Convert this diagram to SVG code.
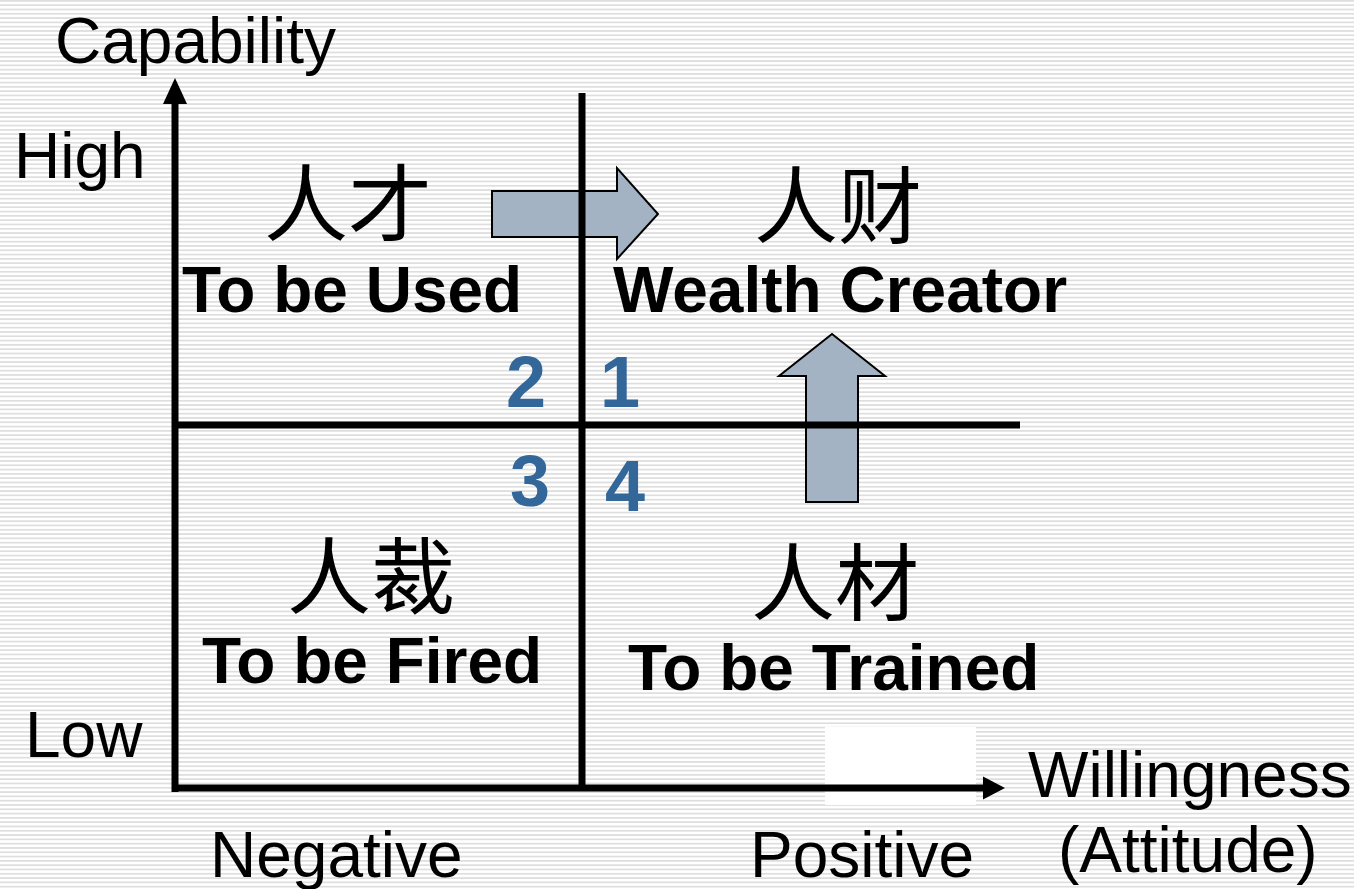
<svg xmlns="http://www.w3.org/2000/svg" width="1354" height="889" viewBox="0 0 1354 889">
<defs>
<pattern id="stripes" width="8" height="4.3" patternUnits="userSpaceOnUse">
<rect x="0" y="0" width="8" height="1.7" fill="#dedede"/>
</pattern>
</defs>
<style>
.lbl{font-family:"Liberation Sans",Arial,sans-serif;font-size:64px;fill:#000}
.bold{font-family:"Liberation Sans",Arial,sans-serif;font-size:64px;font-weight:bold;fill:#000}
.num{font-family:"Liberation Sans",Arial,sans-serif;font-size:72px;font-weight:bold;fill:#336699}
.cjk{font-family:"Noto Sans CJK SC","Noto Sans CJK TC",sans-serif;font-size:84px;fill:#000;text-anchor:middle}
.arrow{fill:#a3b3c3;stroke:#000;stroke-width:2;stroke-linejoin:miter}
.axis{stroke:#000;stroke-width:7;fill:none}
.head{fill:#000}
.grid{stroke:#000;stroke-width:7;fill:none}
</style>
<rect width="1354" height="889" fill="#fff"/>
<rect width="1354" height="889" fill="url(#stripes)"/>
<rect x="825" y="727" width="151" height="78" fill="#fff"/>

<g id="labels">
<text class="lbl" x="55" y="63">Capability</text>
<text class="lbl" x="14" y="178">High</text>
<text class="lbl" x="25" y="757">Low</text>
<text class="lbl" x="210" y="877">Negative</text>
<text class="lbl" x="750" y="877">Positive</text>
<text class="lbl" x="1028" y="797">Willingness</text>
<text class="lbl" x="1058" y="872">(Attitude)</text>
</g>

<g id="arrow-right">
<path class="arrow" d="M492,191 L617,191 L617,168 L658,214 L617,259 L617,237 L492,237 Z"/>
</g>
<g id="arrow-up">
<path class="arrow" d="M806,502 L806,376 L779,376 L832,334 L885,376 L858,376 L858,502 Z"/>
</g>

<g id="connectors">
<line class="axis" x1="175" y1="792" x2="175" y2="100"/>
<polygon class="head" points="175,78 187,104 163,104"/>
<line class="axis" x1="172" y1="788" x2="986" y2="788"/>
<polygon class="head" points="1005,788 983,776.5 983,799.5"/>
<line class="grid" x1="582" y1="93" x2="582" y2="790"/>
<line class="grid" x1="175" y1="425" x2="1020" y2="425"/>
</g>

<g id="q2">
<text class="cjk" x="348" y="235">人才</text>
<text class="bold" x="182" y="312">To be Used</text>
<text class="num" x="506" y="407">2</text>
</g>
<g id="q1">
<text class="cjk" x="838" y="237">人财</text>
<text class="bold" x="613" y="312">Wealth Creator</text>
<text class="num" x="600" y="407">1</text>
</g>
<g id="q3">
<text class="cjk" x="371" y="608">人裁</text>
<text class="bold" x="202" y="683">To be Fired</text>
<text class="num" x="510" y="506">3</text>
</g>
<g id="q4">
<text class="cjk" x="835" y="614">人材</text>
<text class="bold" x="628" y="690">To be Trained</text>
<text class="num" x="605" y="511">4</text>
</g>
</svg>
